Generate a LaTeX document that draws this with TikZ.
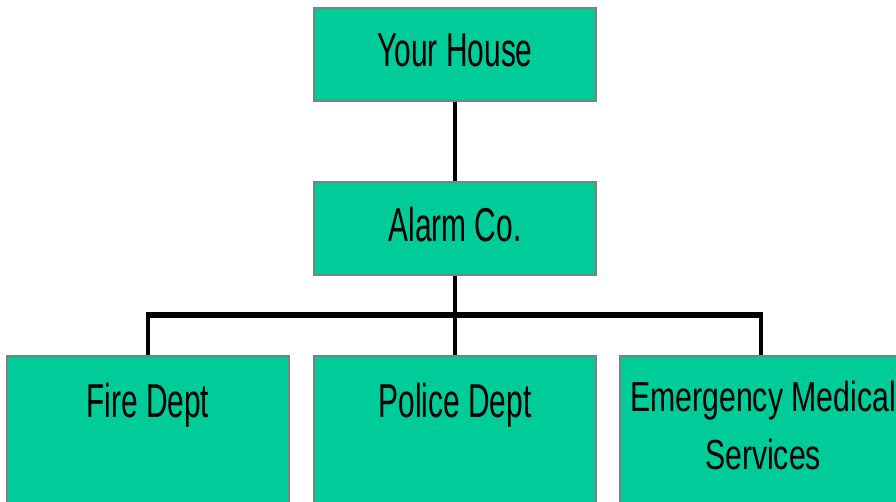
\documentclass[tikz,border=0pt]{standalone}
\usepackage{fontspec}
\setmainfont{Liberation Sans}
\newfontfamily\boxfont[FakeStretch=0.63]{Liberation Sans}
\newfontfamily\emsfont[FakeStretch=0.72]{Liberation Sans}
\definecolor{boxgreen}{RGB}{0,204,153}
\definecolor{boxedge}{RGB}{128,128,128}
\begin{document}
\begin{tikzpicture}[x=1pt,y=-1pt,
  box/.style={draw=boxedge, line width=2pt, fill=boxgreen, inner sep=0pt, minimum width=282pt},
  topbox/.style={box, minimum height=93pt, text depth=8pt, font=\boxfont\fontsize{47.5}{52}\selectfont},
  lowbox/.style={box, minimum height=170pt, anchor=north},
  lbl/.style={anchor=base, inner sep=0pt, font=\boxfont\fontsize{47.5}{52}\selectfont},
  emslbl/.style={anchor=base, inner sep=0pt, align=center, font=\emsfont\fontsize{42}{58}\selectfont},
  wire/.style={line width=4.5pt, black},
  bus/.style={line width=5.5pt, black}]
\useasboundingbox (0,0) rectangle (896,502);
\clip (0,0) rectangle (896,502);
\fill[white] (0,0) rectangle (896,502);
% boxes
\node[topbox] (house) at (455,54.5) {Your House};
\node[topbox] (alarm) at (455,228.5) {Alarm Co.};
\node[lowbox] (fire) at (147.75,355) {};
\node[lowbox] (police) at (455,355) {};
\node[lowbox] (ems) at (761,355) {};
% labels
\node[lbl] (firetxt) at (147.75,417) {Fire Dept};
\node[lbl] (policetxt) at (455,417) {Police Dept};
\node[emslbl] (emstxt) at (763,469) {Emergency Medical\\Services};
% connectors
\coordinate (hub) at (455,315);
\coordinate (busL) at (fire.north |- hub);
\coordinate (busR) at (ems.north |- hub);
\draw[wire] (house.south) -- (alarm.north);
\draw[wire] (alarm.south) -- (hub);
\draw[bus] ([xshift=-2.25pt]busL) -- ([xshift=2.25pt]busR);
\draw[wire] (busL) -- (fire.north);
\draw[wire] (hub) -- (police.north);
\draw[wire] (busR) -- (ems.north);
\end{tikzpicture}
\end{document}
